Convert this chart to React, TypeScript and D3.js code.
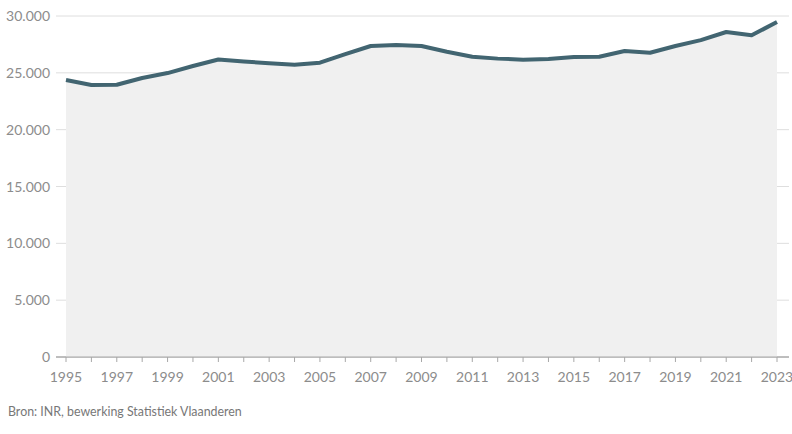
import { useEffect, useRef } from "react";
import * as d3 from "d3";

const years = [
  1995, 1996, 1997, 1998, 1999, 2000, 2001, 2002, 2003, 2004, 2005, 2006, 2007, 2008, 2009,
  2010, 2011, 2012, 2013, 2014, 2015, 2016, 2017, 2018, 2019, 2020, 2021, 2022, 2023,
];
const values = [
  24370, 23930, 23950, 24550, 24980, 25600, 26170, 26000, 25840, 25720, 25890, 26650, 27360, 27450, 27360,
  26860, 26420, 26250, 26160, 26220, 26390, 26420, 26920, 26770, 27360, 27880, 28590, 28300, 29470,
];
const yTicks = [0, 5000, 10000, 15000, 20000, 25000, 30000];
const xLabels = [1995, 1997, 1999, 2001, 2003, 2005, 2007, 2009, 2011, 2013, 2015, 2017, 2019, 2021, 2023];
const source = "Bron: INR, bewerking Statistiek Vlaanderen";

const W = 792;
const H = 434;

export default function App() {
  const svgRef = useRef<SVGSVGElement>(null);

  useEffect(() => {
    if (!svgRef.current) return;
    const svg = d3.select(svgRef.current);
    svg.selectAll("*").remove();

    const font = "Lato, 'Open Sans', sans-serif";
    const x = d3.scaleLinear().domain([1995, 2023]).range([66, 777]);
    const y = d3.scaleLinear().domain([0, 30000]).range([357, 16]);
    const data = years.map((yr, i) => ({ yr, v: values[i] }));

    // grid
    yTicks.forEach(t => {
      svg.append("line")
        .attr("x1", 56).attr("x2", 789)
        .attr("y1", y(t)).attr("y2", y(t))
        .attr("stroke", t === 0 ? "#a8a8a8" : "#dedede")
        .attr("stroke-width", 1);
      svg.append("text")
        .attr("x", 50).attr("y", y(t))
        .attr("dy", "0.36em")
        .attr("text-anchor", "end")
        .style("font-family", font)
        .style("font-size", "14px")
        .style("fill", "#8c8c8c")
        .text(d3.format(",")(t).replace(/,/g, "."));
    });

    // area fill
    const area = d3.area<{ yr: number; v: number }>()
      .x(d => x(d.yr))
      .y0(y(0))
      .y1(d => y(d.v));
    svg.append("path")
      .datum(data)
      .attr("d", area)
      .attr("fill", "#f0f0f0");

    // redraw baseline on top of fill
    svg.append("line")
      .attr("x1", 56).attr("x2", 789)
      .attr("y1", y(0)).attr("y2", y(0))
      .attr("stroke", "#a8a8a8");

    // ticks for every year
    years.forEach(yr => {
      svg.append("line")
        .attr("x1", x(yr)).attr("x2", x(yr))
        .attr("y1", y(0)).attr("y2", y(0) + 5)
        .attr("stroke", "#a8a8a8");
    });

    xLabels.forEach(yr => {
      svg.append("text")
        .attr("x", x(yr)).attr("y", 382)
        .attr("text-anchor", "middle")
        .style("font-family", font)
        .style("font-size", "14px")
        .style("fill", "#8c8c8c")
        .text(yr);
    });

    const line = d3.line<{ yr: number; v: number }>()
      .x(d => x(d.yr))
      .y(d => y(d.v));
    svg.append("path")
      .datum(data)
      .attr("d", line)
      .attr("fill", "none")
      .attr("stroke", "#426571")
      .attr("stroke-width", 4)
      .attr("stroke-linejoin", "round");

    svg.append("text")
      .attr("x", 8).attr("y", 416)
      .style("font-family", font)
      .style("font-size", "12.4px")
      .style("fill", "#777")
      .text(source);
  }, []);

  return (
    <div style={{ position: "absolute", left: 0, top: 0, width: W, height: H, background: "#fff" }}>
      <svg ref={svgRef} width={W} height={H} />
    </div>
  );
}
